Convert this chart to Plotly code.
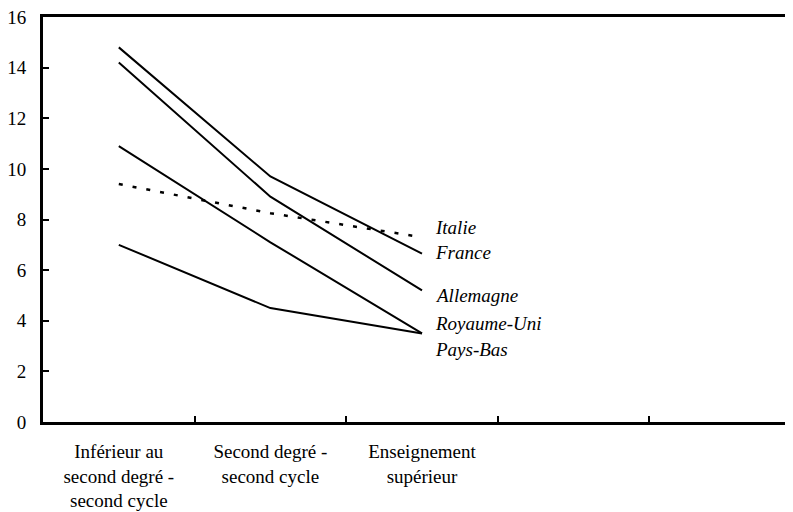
import plotly.graph_objects as go

categories = ["Inférieur au<br>second degré -<br>second cycle",
              "Second degré -<br>second cycle",
              "Enseignement<br>supérieur"]
x_pos = [0, 1, 2]

series_names = ["Italie", "France", "Allemagne", "Royaume-Uni", "Pays-Bas"]
italie = [9.4, 8.25, 7.3]
france = [14.8, 9.7, 6.65]
allemagne = [14.2, 8.9, 5.2]
royaume_uni = [10.9, 7.1, 3.5]
pays_bas = [7.0, 4.5, 3.5]
label_y = [7.7, 6.7, 5.0, 3.9, 2.85]

y_ticks = [0, 2, 4, 6, 8, 10, 12, 14, 16]

font = "Liberation Serif"

fig = go.Figure()
all_series = [italie, france, allemagne, royaume_uni, pays_bas]
for name, vals in zip(series_names, all_series):
    fig.add_trace(go.Scatter(
        x=x_pos, y=vals, mode="lines", name=name,
        line=dict(color="black", width=2.5 if name == "Italie" else 2,
                  dash="4px,10px" if name == "Italie" else "solid"),
        showlegend=False, hoverinfo="skip"))

for name, ly in zip(series_names, label_y):
    fig.add_annotation(x=2.075, y=ly, text="<i>" + name + "</i>", showarrow=False,
                       xanchor="left", yanchor="middle",
                       font=dict(family=font, size=19, color="black"))

fig.update_layout(
    width=793, height=512,
    margin=dict(l=35, r=0, t=9, b=98),
    paper_bgcolor="white", plot_bgcolor="white",
    font=dict(family=font, size=19, color="black"),
    xaxis=dict(range=[-0.5, 4.5], tickmode="array", tickvals=x_pos,
               ticktext=categories, ticks="", showgrid=False, zeroline=False,
               showline=True, linecolor="black", linewidth=3, mirror=True,
               ticklabelstandoff=10, ticklabeloverflow="allow",
               minor=dict(tickmode="array", tickvals=[0.5, 1.5, 2.5, 3.5],
                          ticks="inside", ticklen=6, tickwidth=2, tickcolor="black"),
               tickfont=dict(family=font, size=19, color="black")),
    yaxis=dict(range=[0, 16], tickmode="array", tickvals=y_ticks,
               ticks="inside", ticklen=6, tickwidth=2, tickcolor="black",
               showgrid=False, zeroline=False, showline=True,
               linecolor="black", linewidth=3,
               ticklabelstandoff=10, ticklabeloverflow="allow",
               tickfont=dict(family=font, size=19, color="black")),
)

fig.write_html("out.html")
